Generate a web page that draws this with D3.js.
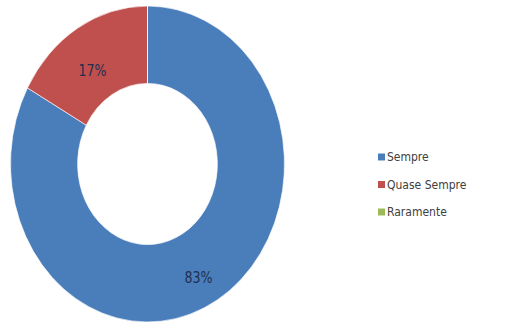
<!DOCTYPE html>
<html>
<meta charset="utf-8">
<head>
<style>
body { margin: 0; background: #fff; }
text { font-family: "DejaVu Sans Condensed", "DejaVu Sans", sans-serif; }
</style>
<script src="https://d3js.org/d3.v7.min.js"></script>
</head>
<body>
  <svg width="507" height="326"></svg>
  <script>
  var categories = ["Sempre", "Quase Sempre", "Raramente"];
  var values = [83, 17, 0];
  var colors = ["#4A7EBB", "#C0504D", "#9BBB59"];

  var svg = d3.select("svg");

  var cx = 147.5, cy = 164, rx = 137, ry = 158;
  var stretch = ry / rx;

  var pie = d3.pie().sort(null).value(function(d) { return d; });
  var arcs = pie(values);

  var arc = d3.arc().innerRadius(rx * 0.51).outerRadius(rx);

  var g = svg.append("g")
      .attr("transform", "translate(" + cx + "," + cy + ") scale(1," + stretch + ")");

  g.selectAll("path")
    .data(arcs)
    .enter().append("path")
      .attr("d", arc)
      .attr("fill", function(d, i) { return colors[i]; })
      .attr("stroke", "#fff")
      .attr("stroke-width", 0.6);

  // label ring, nudged a bit down/left like the original
  var labelArc = d3.arc().innerRadius(rx * 0.76).outerRadius(rx * 0.76);

  svg.selectAll(".lbl")
    .data(arcs.filter(function(d) { return d.data > 0; }))
    .enter().append("text")
      .attr("class", "lbl")
      .attr("transform", function(d) {
        var c = labelArc.centroid(d);
        return "translate(" + (cx - 2 + c[0]) + "," + (cy + 10 + c[1] * stretch) + ") scale(1,1.15)";
      })
      .attr("text-anchor", "middle")
      .attr("dy", "0.35em")
      .attr("font-size", 14)
      .attr("fill", "#1f2f4f")
      .text(function(d) { return d.data + "%"; });

  var legend = svg.selectAll(".leg")
    .data(categories)
    .enter().append("g")
      .attr("class", "leg")
      .attr("transform", function(d, i) { return "translate(378," + (157 + i * 27.5) + ")"; });

  legend.append("rect")
      .attr("x", 0).attr("y", -3.5)
      .attr("width", 7).attr("height", 7)
      .attr("fill", function(d, i) { return colors[i]; });

  legend.append("text")
      .attr("x", 9)
      .attr("dy", "0.35em")
      .attr("font-size", 12)
      .attr("fill", "#404040")
      .text(function(d) { return d; });
  </script>
</body>
</html>
